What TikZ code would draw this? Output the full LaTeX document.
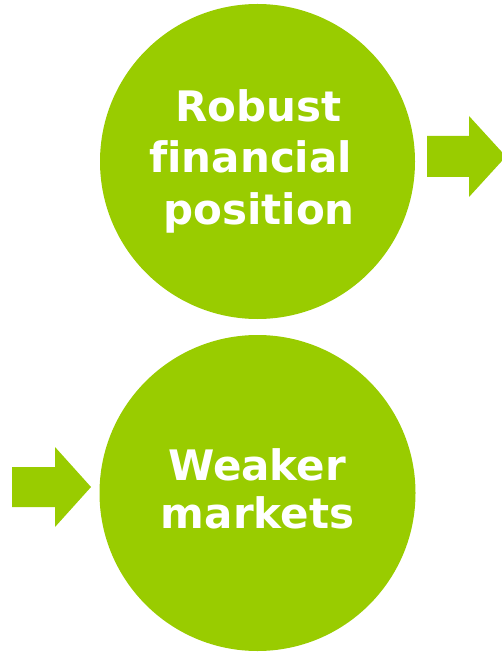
\documentclass[tikz,border=0pt]{standalone}
\usepackage{fontspec}
\setmainfont[Ligatures=NoCommon]{DejaVu Sans}
\definecolor{leaf}{HTML}{99CC00}
\begin{document}
\begin{tikzpicture}[x=1pt,y=-1pt,
  bubble/.style={circle,fill=leaf,draw=none,inner sep=0pt},
  bubbletext/.style={text=white,font=\bfseries\fontsize{42}{51}\selectfont,align=center,inner sep=0pt},
  blockarrow/.style={fill=leaf,draw=none}]
  \useasboundingbox (0,0) rectangle (502,652);
  % the two circles
  \node[bubble,minimum size=315pt] (c1) at (257.5,161.5) {};
  \node[bubble,minimum size=316pt] (c2) at (257.5,493) {};
  % labels, set by baseline
  \node[bubbletext,anchor=base] (t1) at (258.5,122) {Robust};
  \node[bubbletext,anchor=base] (t2) at (258,173) {financial\hspace*{0.35em}};
  \node[bubbletext,anchor=base] (t3) at (259,224) {position};
  \node[bubbletext,anchor=base] (t4) at (257,480) {Weaker};
  \node[bubbletext,anchor=base] (t5) at (257.5,528) {markets};
  % block arrows
  \fill[blockarrow] (427,136) -- (469,136) -- (469,116) -- (506,156.5)
    -- (469,197) -- (469,177) -- (427,177) -- cycle;
  \fill[blockarrow] (12,467) -- (55,467) -- (55,447) -- (91,487)
    -- (55,527) -- (55,507) -- (12,507) -- cycle;
\end{tikzpicture}
\end{document}
